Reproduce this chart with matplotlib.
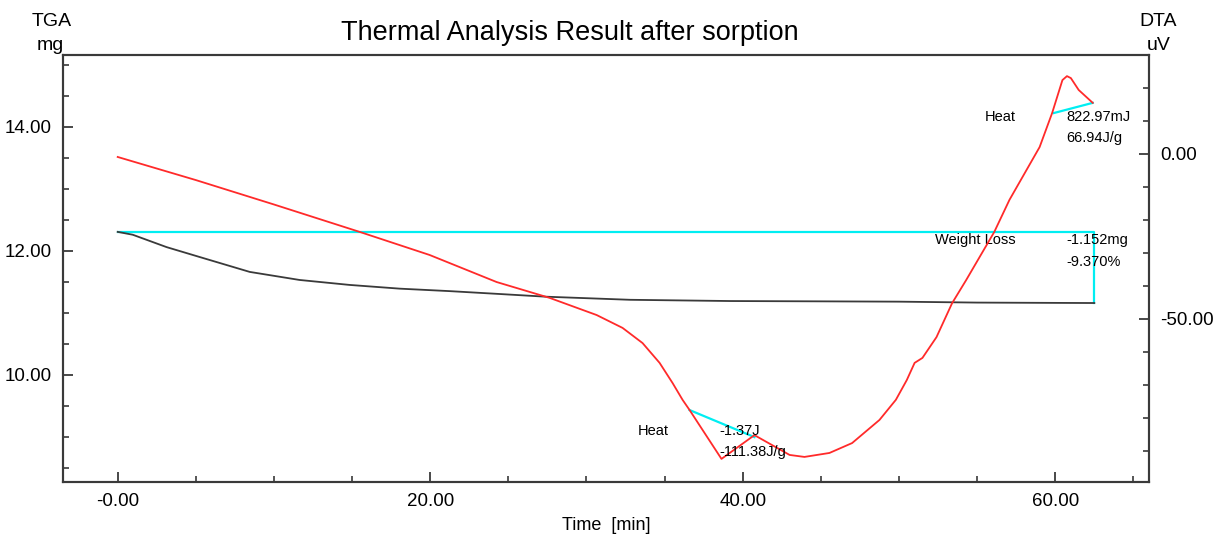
import numpy as np
import matplotlib
matplotlib.use("Agg")
import matplotlib.pyplot as plt
from matplotlib.ticker import MultipleLocator, FormatStrFormatter

plt.rcParams['font.family'] = ['Liberation Sans', 'DejaVu Sans']

# TGA curve (mg vs min)
tga_time = [0, 0.96, 3.13, 5.25, 8.45, 11.64, 14.84, 18.04, 21.24, 24.0, 27.4,
            32.8, 39.2, 45.0, 50.0, 55.0, 60.0, 62.5]
tga_mass = [12.306, 12.26, 12.06, 11.90, 11.66, 11.53, 11.45, 11.39, 11.35, 11.31, 11.26,
            11.21, 11.19, 11.185, 11.18, 11.165, 11.16, 11.158]

# DTA curve (uV vs min)
dta_time = [0, 5.0, 10.0, 15.48, 19.96, 24.25, 27.64, 30.65, 32.31, 33.59, 34.68, 35.51, 36.15,
            36.6, 38.64, 40.75, 43.0, 43.95, 45.55, 47.0, 48.75, 49.8, 50.5, 51.0,
            51.5, 52.4, 53.4, 54.3, 56.1, 57.07, 59.0, 59.8, 60.46, 60.75, 61.0,
            61.5, 62.4]
dta_signal = [-0.9, -7.9, -15.3, -23.6, -30.6, -38.8, -43.6, -48.8, -52.7, -57.3, -63.3, -69.4, -74.5,
              -77.6, -92.4, -85.2, -91.2, -91.8, -90.6, -87.6, -80.6, -74.5, -68.5, -63.3,
              -61.8, -55.5, -45.2, -38.2, -23.6, -13.9, 2.1, 12.4, 22.4, 23.6, 23.0,
              19.4, 15.5]

# weight loss step
wl_start, wl_end = 0.0, 62.5
wl_top, wl_bottom = 12.306, 11.158

# heat integration baselines (time, uV)
heat1_t = [36.6, 40.75]
heat1_v = [-77.6, -85.8]
heat2_t = [59.9, 62.4]
heat2_v = [12.4, 15.5]

RED = '#ff2a2a'
CYAN = '#00eef2'
DARK = '#3a3a3a'

fig = plt.figure(figsize=(12.15, 5.35), dpi=100)
ax = fig.add_axes([63 / 1215, 1 - 482 / 535, (1149 - 63) / 1215, (482 - 55) / 535])
ax2 = ax.twinx()

ax.plot(tga_time, tga_mass, color=DARK, lw=1.3, zorder=3)
ax.plot([wl_start, wl_end, wl_end], [wl_top, wl_top, wl_bottom], color=CYAN, lw=1.6, zorder=2)

ax2.plot(dta_time, dta_signal, color=RED, lw=1.3, zorder=3)
ax2.plot(heat1_t, heat1_v, color=CYAN, lw=1.6, zorder=2)
ax2.plot(heat2_t, heat2_v, color=CYAN, lw=1.6, zorder=2)

ax.set_xlim(-3.5, 66.0)
ax.set_ylim(8.27, 15.16)
ax2.set_ylim(-99.4, 30.0)

for a in (ax, ax2):
    for s in a.spines.values():
        s.set_color(DARK)
        s.set_linewidth(1.5)

ax.xaxis.set_minor_locator(MultipleLocator(5))
ax.set_xticks([0, 20, 40, 60])
ax.set_xticklabels(['-0.00', '20.00', '40.00', '60.00'])
ax.yaxis.set_major_locator(MultipleLocator(2))
ax.yaxis.set_minor_locator(MultipleLocator(0.5))
ax.yaxis.set_major_formatter(FormatStrFormatter('%.2f'))
ax2.yaxis.set_major_locator(MultipleLocator(50))
ax2.yaxis.set_minor_locator(MultipleLocator(10))
ax2.yaxis.set_major_formatter(FormatStrFormatter('%.2f'))

ax.tick_params(axis='both', which='major', direction='in', length=7, width=1.3,
               color=DARK, labelsize=13.5, pad=8)
ax.tick_params(axis='both', which='minor', direction='in', length=4, width=1.2, color=DARK)
ax.tick_params(axis='y', right=False)
ax2.tick_params(axis='y', which='major', direction='in', length=7, width=1.3,
                color=DARK, labelsize=13.5, pad=8)
ax2.tick_params(axis='y', which='minor', direction='in', length=4, width=1.2, color=DARK)

fig.text(570 / 1215, 1 - 33 / 535, 'Thermal Analysis Result after sorption',
         ha='center', va='center', fontsize=19.5)
fig.text(52 / 1215, 1 - 21 / 535, 'TGA', ha='center', va='center', fontsize=14)
fig.text(50 / 1215, 1 - 45 / 535, 'mg', ha='center', va='center', fontsize=14)
fig.text(1158 / 1215, 1 - 21 / 535, 'DTA', ha='center', va='center', fontsize=14)
fig.text(1159 / 1215, 1 - 45 / 535, 'uV', ha='center', va='center', fontsize=14)
fig.text(606 / 1215, 1 - 526 / 535, 'Time  [min]', ha='center', va='center', fontsize=13)

fs = 10.5
ax2.text(55.5, 11.2, 'Heat', fontsize=fs, va='center')
ax2.text(60.7, 11.2, '822.97mJ', fontsize=fs, va='center')
ax2.text(60.7, 4.8, '66.94J/g', fontsize=fs, va='center')
ax.text(52.3, 12.18, 'Weight Loss', fontsize=fs, va='center')
ax.text(60.7, 12.18, '-1.152mg', fontsize=fs, va='center')
ax.text(60.7, 11.82, '-9.370%', fontsize=fs, va='center')
ax2.text(33.3, -83.9, 'Heat', fontsize=fs, va='center')
ax2.text(38.5, -83.9, '-1.37J', fontsize=fs, va='center')
ax2.text(38.5, -90.3, '-111.38J/g', fontsize=fs, va='center')

fig.savefig('out.png', dpi=100)
